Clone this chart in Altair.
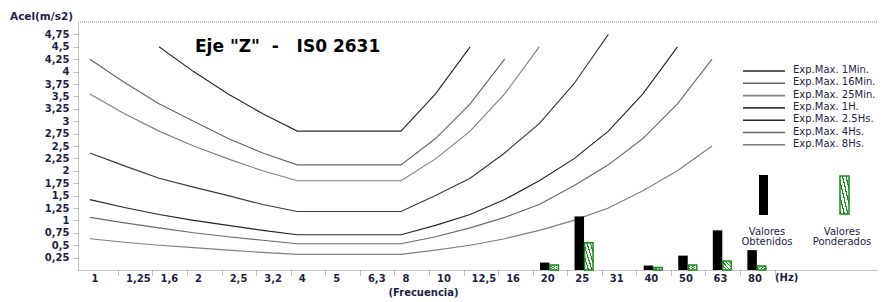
import altair as alt
import pandas as pd

# ---------------- data ----------------
freq_labels = ["1", "1,25", "1,6", "2", "2,5", "3,2", "4", "5", "6,3", "8",
               "10", "12,5", "16", "20", "25", "31", "40", "50", "63", "80"]
freq_index = list(range(20))

curve_names = ["Exp.Max. 1Min.", "Exp.Max. 16Min.", "Exp.Max. 25Min.", "Exp.Max. 1H.",
               "Exp.Max. 2.5Hs.", "Exp.Max. 4Hs.", "Exp.Max. 8Hs."]
curve_colors = ["#2a2a2a", "#666666", "#808080", "#3a3a3a", "#262626", "#6a6a6a", "#7e7e7e"]

N = None
exp_1min = [N, N, 4.50, 4.00, 3.55, 3.15, 2.80, 2.80, 2.80, 2.80, 3.55, 4.50, N, N, N, N, N, N, N, N]
exp_16min = [4.25, 3.78, 3.35, 3.00, 2.65, 2.36, 2.12, 2.12, 2.12, 2.12, 2.65, 3.35, 4.25, N, N, N, N, N, N, N]
exp_25min = [3.55, 3.15, 2.80, 2.50, 2.24, 2.00, 1.80, 1.80, 1.80, 1.80, 2.24, 2.80, 3.55, 4.50, N, N, N, N, N, N]
exp_1h = [2.36, 2.10, 1.85, 1.67, 1.50, 1.32, 1.18, 1.18, 1.18, 1.18, 1.50, 1.85, 2.36, 2.95, 3.75, 4.75, N, N, N, N]
exp_2_5h = [1.42, 1.26, 1.12, 1.00, 0.90, 0.80, 0.71, 0.71, 0.71, 0.71, 0.90, 1.12, 1.42, 1.80, 2.24, 2.80, 3.55, 4.50, N, N]
exp_4h = [1.06, 0.95, 0.85, 0.75, 0.67, 0.60, 0.53, 0.53, 0.53, 0.53, 0.67, 0.85, 1.06, 1.32, 1.70, 2.12, 2.65, 3.35, 4.25, N]
exp_8h = [0.63, 0.56, 0.50, 0.45, 0.40, 0.355, 0.315, 0.315, 0.315, 0.315, 0.40, 0.50, 0.63, 0.80, 1.00, 1.25, 1.60, 2.00, 2.50, N]
curves = [exp_1min, exp_16min, exp_25min, exp_1h, exp_2_5h, exp_4h, exp_8h]

valores_obtenidos = [N] * 13 + [0.15, 1.08, N, 0.09, 0.29, 0.80, 0.40]
valores_ponderados = [N] * 13 + [0.10, 0.55, N, 0.05, 0.10, 0.18, 0.08]

y_tick_values = [0.25, 0.5, 0.75, 1, 1.25, 1.5, 1.75, 2, 2.25, 2.5, 2.75, 3, 3.25,
                 3.5, 3.75, 4, 4.25, 4.5, 4.75]

title_text = "Eje \"Z\"\u00a0\u00a0-\u00a0\u00a0 IS0 2631"
y_title = "Acel(m/s2)"
x_title = "(Frecuencia)"
hz_text = "(Hz)"
bar_legend = [["Valores", "Obtenidos"], ["Valores", "Ponderados"]]

# ---------------- tables ----------------
rows = []
for name, vals in zip(curve_names, curves):
    for i, v in zip(freq_index, vals):
        if v is not None:
            rows.append({"name": name, "idx": i, "val": v})
line_df = pd.DataFrame(rows)

obt_df = pd.DataFrame([{"idx": i, "val": v} for i, v in zip(freq_index, valores_obtenidos) if v is not None])
pond_df = pd.DataFrame([{"idx": i, "val": v} for i, v in zip(freq_index, valores_ponderados) if v is not None])

# ---------------- styling ----------------
W, H = 800, 248
FONT = "DejaVu Sans"
TXT = "#1e1e46"
GREEN = "#1a8c1a"
AX = "#8a8a8a"

x_scale = alt.Scale(domain=[-0.2, 22.657], nice=False, zero=False)
y_scale = alt.Scale(domain=[0, 5], nice=False)

label_array = "[" + ",".join("'" + s + "'" for s in freq_labels) + "]"

x_axis = alt.Axis(
    values=freq_index, labelExpr=label_array + "[datum.value]",
    labelAlign="left", tickOffset=28, labelOffset=-27, tickSize=5,
    tickDash=[1, 1], tickColor=AX, domainColor=AX, domainDash=[1, 1],
    labelFont=FONT, labelFontWeight="bold", labelFontSize=10, labelColor=TXT,
    labelPadding=-2, labelFlush=False, labelOverlap=False, grid=False,
    title=x_title, titleX=345, titleY=22, titleAlign="center", titleBaseline="middle",
    titleFont=FONT, titleFontSize=10, titleFontWeight="bold", titleColor=TXT,
)
y_axis = alt.Axis(
    values=y_tick_values, labelExpr="replace(format(datum.value, '~g'), '.', ',')",
    tickSize=6, tickDash=[1, 1], tickColor=AX, domainColor=AX, domainDash=[1, 1],
    labelFont=FONT, labelFontWeight="bold", labelFontSize=10, labelColor=TXT,
    labelPadding=3, labelFlush=False, labelOverlap=False, labelSeparation=0, grid=False,
    title=y_title, titleAngle=0, titleX=-37, titleY=-6, titleAlign="center",
    titleBaseline="middle", titleFont=FONT, titleFontSize=10.5, titleFontWeight="bold",
    titleColor=TXT,
)

stops = []
for k in range(5):
    b = k / 5
    stops += [
        alt.GradientStop(offset=b, color=GREEN),
        alt.GradientStop(offset=b + 0.07, color=GREEN),
        alt.GradientStop(offset=b + 0.07, color="white"),
        alt.GradientStop(offset=b + 0.2, color="white"),
    ]
hatch = alt.LinearGradient(gradient="linear", stops=stops, x1=0, y1=1, x2=1, y2=0)

X = alt.X("idx:Q", scale=x_scale, axis=x_axis)
Y = alt.Y("val:Q", scale=y_scale, axis=y_axis)

# ---------------- layers ----------------
lines = alt.Chart(line_df).mark_line(strokeWidth=1.15).encode(
    x=X, y=Y,
    color=alt.Color("name:N", scale=alt.Scale(domain=curve_names, range=curve_colors), legend=None),
    order="idx:Q",
)

black_bars = alt.Chart(obt_df).mark_bar(width=9.5, xOffset=5.5, color="black").encode(x=X, y=Y)
green_bars = alt.Chart(pond_df).mark_bar(width=8.5, xOffset=15, fill=hatch, stroke=GREEN,
                                         strokeWidth=1.5).encode(x=X, y=Y)

one = pd.DataFrame({"a": [0]})
top_border = alt.Chart(one).mark_rule(color=AX, strokeDash=[1, 1]).encode(
    x=alt.value(0), x2=alt.value(W), y=alt.value(0))

title = alt.Chart(pd.DataFrame({"t": [title_text]})).mark_text(
    font=FONT, fontSize=17, fontWeight="bold", color="black", align="left", baseline="middle"
).encode(text="t:N", x=alt.value(117), y=alt.value(25))

hz = alt.Chart(pd.DataFrame({"t": [hz_text]})).mark_text(
    font=FONT, fontSize=10, fontWeight="bold", color=TXT, align="left", baseline="middle"
).encode(text="t:N", x=alt.value(697), y=alt.value(256))

legend_layers = []
for i, (name, col) in enumerate(zip(curve_names, curve_colors)):
    yy = 48 + 12.3 * i
    legend_layers.append(alt.Chart(one).mark_rule(color=col, strokeWidth=1.6).encode(
        x=alt.value(665), x2=alt.value(707), y=alt.value(yy + 1)))
    legend_layers.append(alt.Chart(pd.DataFrame({"t": [name]})).mark_text(
        font=FONT, fontSize=10, color=TXT, align="left", baseline="middle"
    ).encode(text="t:N", x=alt.value(715), y=alt.value(yy)))

legend_layers.append(alt.Chart(one).mark_rect(color="black").encode(
    x=alt.value(681), x2=alt.value(690), y=alt.value(153), y2=alt.value(193)))
legend_layers.append(alt.Chart(one).mark_rect(fill=hatch, stroke=GREEN, strokeWidth=1.5).encode(
    x=alt.value(762), x2=alt.value(771), y=alt.value(154), y2=alt.value(192)))
for cx, lab in zip([689, 764], bar_legend):
    for j, part in enumerate(lab):
        legend_layers.append(alt.Chart(pd.DataFrame({"t": [part]})).mark_text(
            font=FONT, fontSize=10, color=TXT, align="center", baseline="middle"
        ).encode(text="t:N", x=alt.value(cx), y=alt.value(210 + 9.5 * j)))

chart = alt.layer(lines, black_bars, green_bars, top_border, title, hz, *legend_layers).properties(
    width=W, height=H,
    autosize=alt.AutoSizeParams(type="none"),
    padding={"left": 70, "top": 14, "right": 0, "bottom": 30},
).configure_view(strokeWidth=0)

chart.save("out.html", embed_options={"renderer": "svg", "actions": False})
